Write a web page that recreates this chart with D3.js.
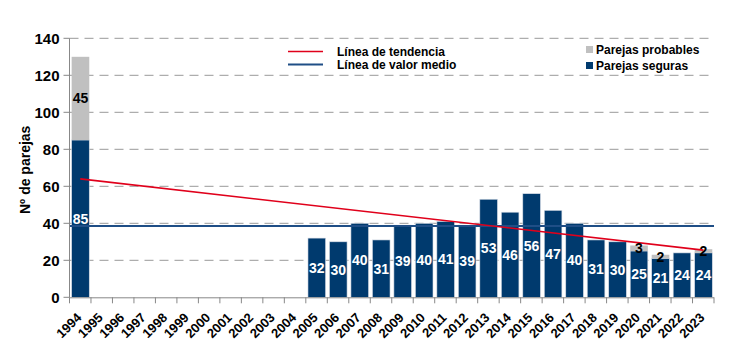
<!DOCTYPE html>
<html><head><meta charset="utf-8">
<script src="https://cdn.jsdelivr.net/npm/d3@7/dist/d3.min.js"></script>
<style>body{margin:0;background:#fff}svg{display:block;font-family:"Liberation Sans",Arial,sans-serif}</style>
</head><body><svg id="c" width="730" height="355"></svg>
<script>
const years = ["1994","1995","1996","1997","1998","1999","2000","2001","2002","2003","2004","2005","2006","2007","2008","2009","2010","2011","2012","2013","2014","2015","2016","2017","2018","2019","2020","2021","2022","2023"];
const seguras = [85,0,0,0,0,0,0,0,0,0,0,32,30,40,31,39,40,41,39,53,46,56,47,40,31,30,25,21,24,24];
const probables = [45,0,0,0,0,0,0,0,0,0,0,0,0,0,0,0,0,0,0,0,0,0,0,0,0,0,3,2,0,2];
const yTicks = [0,20,40,60,80,100,120,140];
const meanValue = 38.5;
const trendStart = 64, trendEnd = 25.5;

const svg = d3.select("#c");
const L = 69.5, R = 714, T = 38.3, B = 297.3;
const x = d3.scaleBand().domain(years).range([L, R]).padding(0);
const y = d3.scaleLinear().domain([0, 140]).range([B, T]);
const bw = x.bandwidth();
const navy = "#003a6e", gray = "#c0c0c0";

// grid
svg.append("g").selectAll("line").data(yTicks.filter(d => d > 0)).join("line")
  .attr("x1", L).attr("x2", R).attr("y1", d => y(d)).attr("y2", d => y(d))
  .attr("stroke", "#999").attr("stroke-width", 1).attr("stroke-dasharray", "9,6");

// bars
const bars = svg.append("g");
years.forEach((yr, i) => {
  const bx = x(yr) + bw * 0.1, w = bw * 0.82;
  if (seguras[i] > 0) bars.append("rect").attr("x", bx).attr("width", w)
    .attr("y", y(seguras[i])).attr("height", y(0) - y(seguras[i])).attr("fill", navy)
    .attr("stroke", "#d8dde6").attr("stroke-width", 0.6);
  if (probables[i] > 0) bars.append("rect").attr("x", bx).attr("width", w)
    .attr("y", y(seguras[i] + probables[i])).attr("height", y(seguras[i]) - y(seguras[i] + probables[i]))
    .attr("fill", gray);
});

// mean line
svg.append("line").attr("x1", L).attr("x2", R).attr("y1", y(meanValue)).attr("y2", y(meanValue))
  .attr("stroke", "#1f4e86").attr("stroke-width", 2);

// trend line
const first = years[0], last = years[years.length - 1];
svg.append("line").attr("x1", x(first) + bw / 2).attr("x2", x(last) + bw / 2)
  .attr("y1", y(trendStart)).attr("y2", y(trendEnd))
  .attr("stroke", "#e0001b").attr("stroke-width", 1.6);

// value labels
const lab = svg.append("g").attr("font-weight", "bold").attr("font-size", 14).attr("text-anchor", "middle");
years.forEach((yr, i) => {
  const cx = x(yr) + bw * 0.51;
  if (seguras[i] > 0) lab.append("text").attr("x", cx).attr("y", y(seguras[i] / 2)).attr("dy", "0.36em")
    .attr("fill", "#fff").text(seguras[i]);
  if (probables[i] > 0) lab.append("text").attr("x", cx).attr("y", y(seguras[i] + probables[i] / 2)).attr("dy", "0.36em")
    .attr("fill", "#000").text(probables[i]);
});

// y axis
const ya = svg.append("g");
ya.append("line").attr("x1", L).attr("x2", L).attr("y1", T).attr("y2", B).attr("stroke", "#888");
ya.selectAll("line.t").data(yTicks).join("line").attr("class", "t")
  .attr("x1", L - 6).attr("x2", L).attr("y1", d => y(d)).attr("y2", d => y(d)).attr("stroke", "#888");
ya.selectAll("text").data(yTicks).join("text").attr("x", L - 10).attr("y", d => y(d)).attr("dy", "0.36em")
  .attr("text-anchor", "end").attr("font-weight", "bold").attr("font-size", 15).text(d => d);
svg.append("text").attr("transform", `translate(30,${(T + B) / 2 + 2}) rotate(-90)`).attr("text-anchor", "middle")
  .attr("font-weight", "bold").attr("font-size", 14).text("Nº de parejas");

// x axis
const xa = svg.append("g");
xa.append("line").attr("x1", L).attr("x2", R).attr("y1", B + 0.5).attr("y2", B + 0.5).attr("stroke", "#888");
xa.selectAll("line.t").data(years.concat(["end"])).join("line").attr("class", "t")
  .attr("x1", d => d === "end" ? R : x(d)).attr("x2", d => d === "end" ? R : x(d))
  .attr("y1", B).attr("y2", B + 6).attr("stroke", "#888");
xa.selectAll("text").data(years).join("text")
  .attr("transform", d => `translate(${x(d) + bw / 2 + 2},${B + 21}) rotate(-45)`)
  .attr("text-anchor", "end").attr("font-weight", "bold").attr("font-size", 13).text(d => d);

// legend
const lg = svg.append("g").attr("font-weight", "bold").attr("font-size", 12);
lg.append("line").attr("x1", 288).attr("x2", 323).attr("y1", 51.5).attr("y2", 51.5).attr("stroke", "#e0001b").attr("stroke-width", 1.6);
lg.append("line").attr("x1", 288).attr("x2", 323).attr("y1", 64.5).attr("y2", 64.5).attr("stroke", "#1f4e86").attr("stroke-width", 2);
lg.append("text").attr("x", 337).attr("y", 56).text("Línea de tendencia");
lg.append("text").attr("x", 337).attr("y", 69).text("Línea de valor medio");
lg.append("rect").attr("x", 586).attr("y", 46).attr("width", 7).attr("height", 7).attr("fill", gray);
lg.append("rect").attr("x", 586).attr("y", 62).attr("width", 7).attr("height", 7).attr("fill", navy);
lg.append("text").attr("x", 596).attr("y", 54).text("Parejas probables");
lg.append("text").attr("x", 596).attr("y", 70).text("Parejas seguras");
</script></body></html>
